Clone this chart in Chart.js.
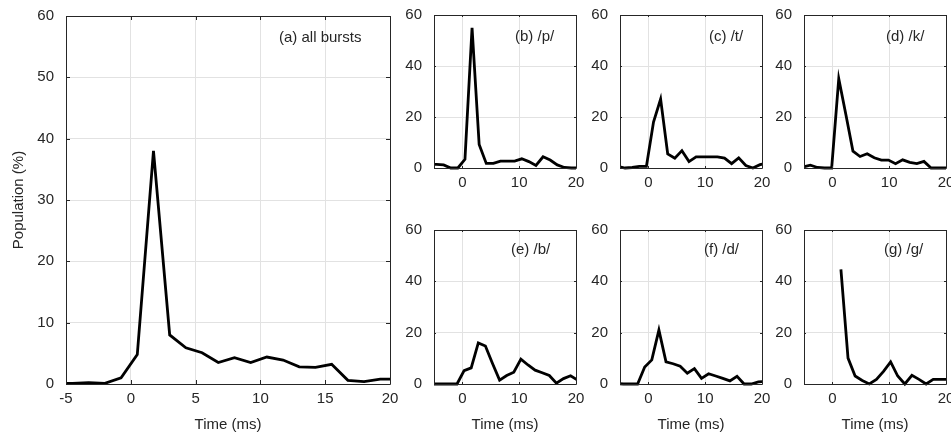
<!DOCTYPE html>
<html>
<head>
<meta charset="utf-8">
<script src="https://cdn.jsdelivr.net/npm/chart.js@4.4.0/dist/chart.umd.min.js"></script>
<style>
  html, body { margin: 0; padding: 0; background: #fff; overflow: hidden; }
  #wrap { position: relative; width: 951px; height: 434px; }
  canvas { position: absolute; }
</style>
</head>
<body>
<div id="wrap">
  <canvas id="chartA"></canvas>
  <canvas id="chartB"></canvas>
  <canvas id="chartC"></canvas>
  <canvas id="chartD"></canvas>
  <canvas id="chartE"></canvas>
  <canvas id="chartF"></canvas>
  <canvas id="chartG"></canvas>
</div>
<script>
// Bin centres (ms) and population (%) for each panel
const timeA = [-5.75, -4.5, -3.25, -2, -0.75, 0.5, 1.75, 3, 4.25, 5.5, 6.75, 8, 9.25, 10.5, 11.75, 13, 14.25, 15.5, 16.75, 18, 19.25, 20.5];
const popA  = [0.1, 0.1, 0.2, 0.1, 1.0, 4.8, 38, 8.0, 5.9, 5.1, 3.5, 4.3, 3.5, 4.4, 3.9, 2.8, 2.7, 3.2, 0.6, 0.4, 0.8, 0.8];

const timeB = [-5.8, -4.55, -3.3, -2.05, -0.8, 0.45, 1.7, 2.95, 4.2, 5.45, 6.7, 7.95, 9.2, 10.45, 11.7, 12.95, 14.2, 15.45, 16.7, 17.95, 19.2, 20.45];
const popB  = [1.4, 1.4, 1.2, 0, 0, 3.4, 55, 9.2, 1.8, 1.8, 2.7, 2.7, 2.7, 3.6, 2.5, 1.0, 4.4, 3.1, 1.2, 0.2, 0, 0];

const timeC = [-5.35, -4.1, -2.85, -1.6, -0.35, 0.9, 2.15, 3.4, 4.65, 5.9, 7.15, 8.4, 9.65, 10.9, 12.15, 13.4, 14.65, 15.9, 17.15, 18.4, 19.65, 20.9];
const popC  = [0.6, 0, 0.2, 0.6, 0.6, 18, 27, 5.5, 3.8, 6.8, 2.5, 4.4, 4.4, 4.4, 4.4, 3.9, 1.7, 4.0, 1.0, 0, 1.3, 2];

const timeD = [-5.13, -3.88, -2.63, -1.38, -0.13, 1.12, 2.37, 3.62, 4.87, 6.12, 7.37, 8.62, 9.87, 11.12, 12.37, 13.62, 14.87, 16.12, 17.37, 18.62, 19.87, 21.12];
const popD  = [0.4, 1.1, 0.2, 0, 0, 35, 21, 6.6, 4.5, 5.6, 4.0, 3.1, 3.1, 1.7, 3.2, 2.2, 1.7, 2.6, 0, 0, 0, 0];

const timeE = [-5.95, -4.7, -3.45, -2.2, -0.95, 0.3, 1.55, 2.8, 4.05, 5.3, 6.55, 7.8, 9.05, 10.3, 11.55, 12.8, 14.05, 15.3, 16.55, 17.8, 19.05, 20.3];
const popE  = [0, 0, 0, 0, 0, 5.2, 6.3, 16, 14.8, 8, 1.5, 3.3, 4.6, 9.7, 7.4, 5.4, 4.4, 3.3, 0.3, 2.1, 3.2, 1.5];

const timeF = [-5.65, -4.4, -3.15, -1.9, -0.65, 0.6, 1.85, 3.1, 4.35, 5.6, 6.85, 8.1, 9.35, 10.6, 11.85, 13.1, 14.35, 15.6, 16.85, 18.1, 19.35, 20.6];
const popF  = [0.2, 0, 0, 0, 6.6, 9.4, 21, 8.6, 7.9, 6.9, 4.2, 6, 2.2, 4, 3.1, 2.2, 1.2, 3, 0, 0, 0.8, 1];

const timeG = [1.5, 2.75, 4.0, 5.25, 6.5, 7.75, 9.0, 10.25, 11.5, 12.75, 14.0, 15.25, 16.5, 17.75, 19.0, 20.25];
const popG  = [44.7, 10.1, 3.1, 1.4, 0, 1.8, 4.9, 8.6, 3.1, 0, 3.4, 1.8, 0, 1.8, 1.8, 1.8];

// Tick labels
const xTicksBig = [-5, 0, 5, 10, 15, 20];
const yTicksBig = [0, 10, 20, 30, 40, 50, 60];
const xTicksSmall = [0, 10, 20];
const yTicksSmall = [0, 20, 40, 60];

const panelLabels = ['(a) all bursts', '(b) /p/', '(c) /t/', '(d) /k/', '(e) /b/', '(f) /d/', '(g) /g/'];
const xTitle = 'Time (ms)';
const yTitle = 'Population (%)';

const FONT = '"Liberation Sans", Arial, Helvetica, sans-serif';
const FSIZE = 15;
const TEXT = '#262626';
const GRID = '#e2e2e2';

// draws the box around the plot, inward ticks, and the panel label
const framePlugin = {
  id: 'frame',
  afterDraw(chart, args, opts) {
    const ctx = chart.ctx;
    const a = chart.chartArea;
    const len = opts.tickLen;
    ctx.save();
    ctx.strokeStyle = TEXT;
    ctx.lineWidth = 1;
    ctx.beginPath();
    ctx.rect(Math.round(a.left) + 0.5, Math.round(a.top) + 0.5, Math.round(a.right - a.left), Math.round(a.bottom - a.top));
    chart.scales.x.ticks.forEach(t => {
      const px = Math.round(chart.scales.x.getPixelForValue(t.value)) + 0.5;
      ctx.moveTo(px, a.bottom); ctx.lineTo(px, a.bottom - len);
      ctx.moveTo(px, a.top); ctx.lineTo(px, a.top + len);
    });
    chart.scales.y.ticks.forEach(t => {
      const py = Math.round(chart.scales.y.getPixelForValue(t.value)) + 0.5;
      ctx.moveTo(a.left, py); ctx.lineTo(a.left + len, py);
      ctx.moveTo(a.right, py); ctx.lineTo(a.right - len, py);
    });
    ctx.stroke();
    ctx.fillStyle = TEXT;
    ctx.font = FSIZE + 'px ' + FONT;
    ctx.textBaseline = 'middle';
    ctx.textAlign = 'left';
    ctx.fillText(opts.label, a.left + opts.labelDx, a.top + opts.labelDy);
    ctx.restore();
  }
};

// keep the layout padding in charge of the plot box
function fixScale(s, size) {
  if (s.isHorizontal()) s.height = size; else s.width = size;
  s.paddingTop = 0; s.paddingBottom = 0; s.paddingLeft = 0; s.paddingRight = 0;
}

function makeChart(id, times, pops, cfg) {
  const canvas = document.getElementById(id);
  canvas.width = cfg.w; canvas.height = cfg.h;
  canvas.style.width = cfg.w + 'px'; canvas.style.height = cfg.h + 'px';
  canvas.style.left = cfg.left + 'px'; canvas.style.top = cfg.top + 'px';

  const points = times.map((t, i) => ({ x: t, y: pops[i] }));

  return new Chart(canvas, {
    type: 'line',
    data: {
      datasets: [{
        data: points,
        borderColor: '#000',
        borderWidth: 2.8,
        pointRadius: 0,
        tension: 0,
        fill: false,
        clip: { left: 0, right: 0, top: 3, bottom: 3 }
      }]
    },
    options: {
      responsive: false,
      animation: false,
      devicePixelRatio: 1,
      layout: { padding: { top: cfg.padTop, right: 12, bottom: 0, left: 0 } },
      plugins: {
        legend: { display: false },
        tooltip: { enabled: false },
        frame: { tickLen: cfg.tickLen, label: cfg.label, labelDx: cfg.labelDx, labelDy: cfg.labelDy }
      },
      scales: {
        x: {
          type: 'linear',
          min: -5, max: 20,
          afterBuildTicks: s => { s.ticks = cfg.xTicks.map(v => ({ value: v })); },
          afterFit: s => fixScale(s, cfg.xH),
          grid: { color: GRID, drawTicks: false },
          border: { display: false },
          ticks: { color: TEXT, font: { family: FONT, size: FSIZE }, padding: 6, maxRotation: 0 },
          title: { display: cfg.xTitle, text: xTitle, color: TEXT, font: { family: FONT, size: FSIZE }, padding: { top: 0, bottom: 0 } }
        },
        y: {
          min: 0, max: 60,
          afterBuildTicks: s => { s.ticks = cfg.yTicks.map(v => ({ value: v })); },
          afterFit: s => fixScale(s, cfg.yW),
          grid: { color: GRID, drawTicks: false },
          border: { display: false },
          ticks: { color: TEXT, font: { family: FONT, size: FSIZE }, padding: 12 },
          title: { display: cfg.yTitle, text: yTitle, color: TEXT, font: { family: FONT, size: FSIZE }, padding: { top: 10, bottom: 0 } }
        }
      }
    },
    plugins: [framePlugin]
  });
}

// big panel
makeChart('chartA', timeA, popA, {
  left: 0, top: 0, w: 402, h: 434, padTop: 16, xH: 50, yW: 66,
  xTicks: xTicksBig, yTicks: yTicksBig, xTitle: true, yTitle: true,
  tickLen: 4, label: panelLabels[0], labelDx: 213, labelDy: 22
});

// small panels
const colLeft = [390, 576, 760];
const smallTimes = [timeB, timeC, timeD, timeE, timeF, timeG];
const smallPops = [popB, popC, popD, popE, popF, popG];
const labelDx = [81, 89, 82, 77, 84, 80];
['chartB', 'chartC', 'chartD', 'chartE', 'chartF', 'chartG'].forEach((id, i) => {
  const row = Math.floor(i / 3);
  const col = i % 3;
  makeChart(id, smallTimes[i], smallPops[i], {
    left: colLeft[col],
    top: row === 0 ? 0 : 215,
    w: 198,
    h: row === 0 ? 200 : 219,
    padTop: 15,
    xH: row === 0 ? 32 : 50,
    yW: 44,
    xTicks: xTicksSmall, yTicks: yTicksSmall,
    xTitle: row === 1, yTitle: false,
    tickLen: 2, label: panelLabels[i + 1], labelDx: labelDx[i], labelDy: row === 0 ? 22 : 20
  });
});
</script>
</body>
</html>
